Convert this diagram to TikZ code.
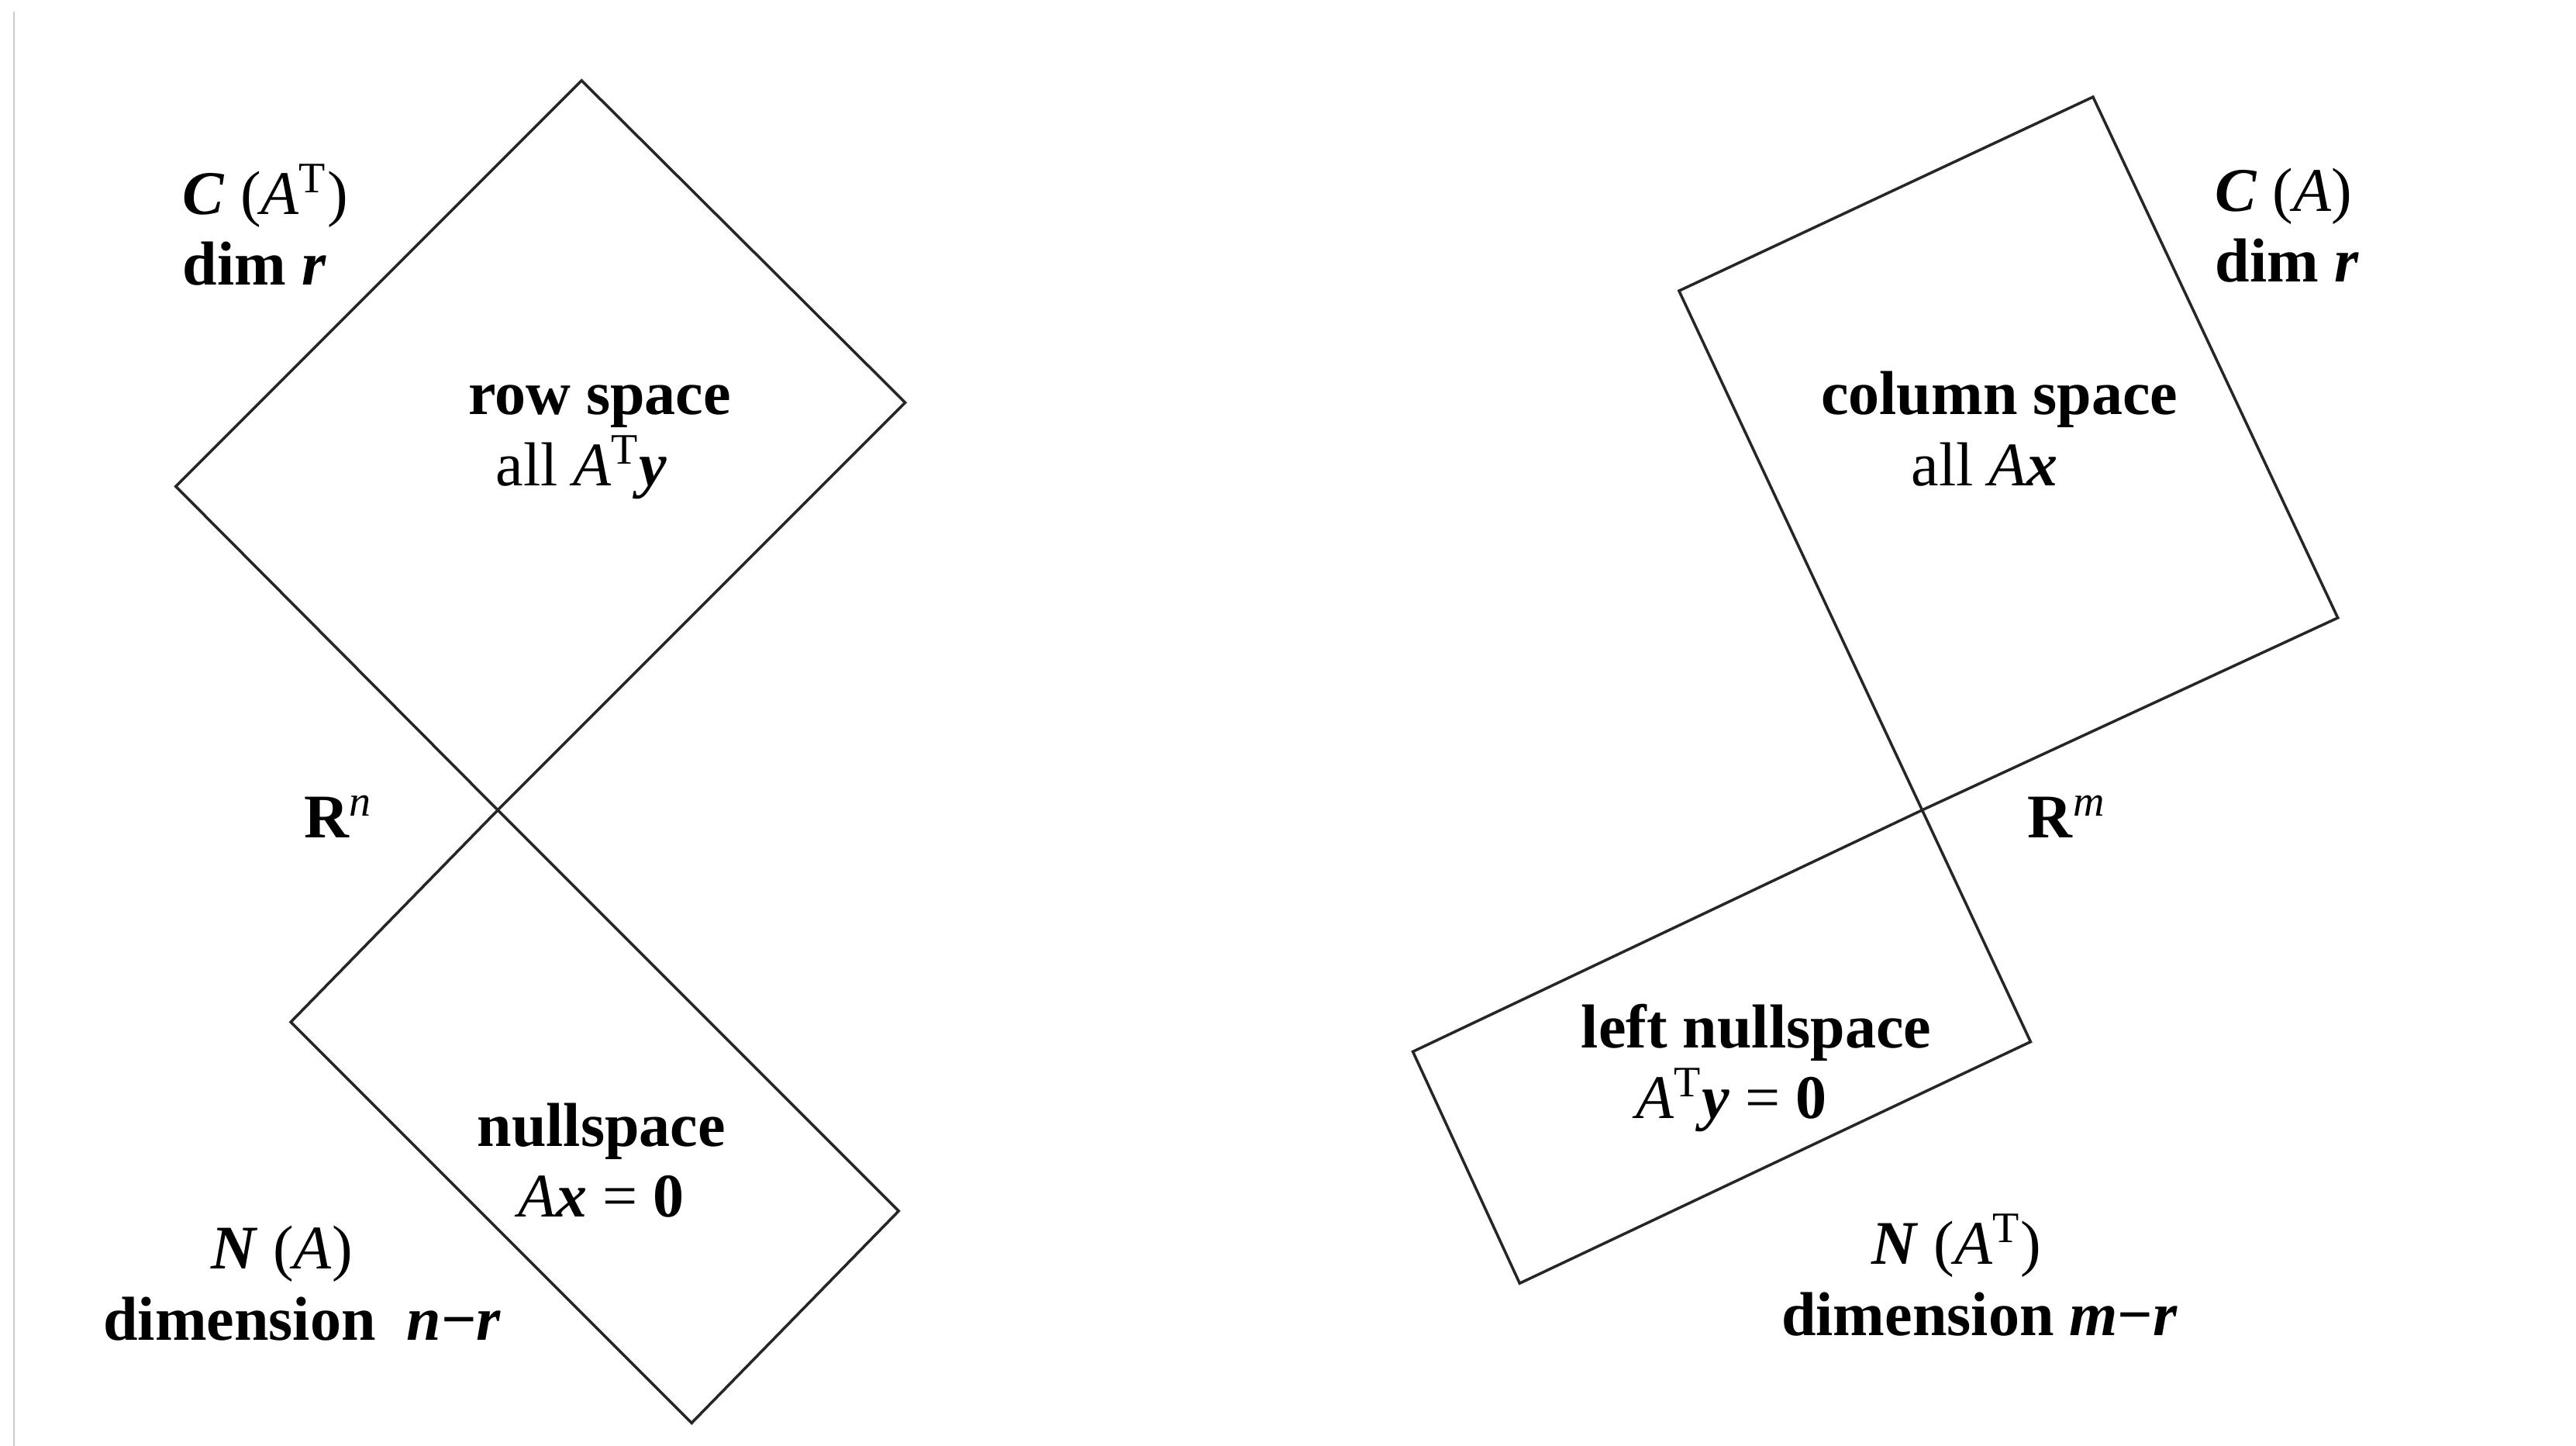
\documentclass[tikz,border=0pt]{standalone}
\usepackage{fontspec}
\setmainfont{Liberation Serif}
\usepackage{tikz}

\newcommand{\bi}[1]{\textbf{\textit{#1}}}
\newcommand{\tp}{\textsuperscript{T}}

\tikzset{
    space/.style={draw=black!85, line width=0.95pt},
    lbl/.style={font=\fontsize{21.5}{24.5}\selectfont, align=center, inner sep=0pt},
    side/.style={lbl, align=left, anchor=west}
}

\begin{document}
\begin{tikzpicture}[x=0.02cm, y=-0.02cm]
    \useasboundingbox (0,0) rectangle (1568,880);

    % Page edge
    \draw[gray!40, line width=0.5pt] (8.5,7) -- (8.5,880);

    % Left picture: R^n
    \coordinate (o1) at (303,493);
    \coordinate (rtop) at (354,49);
    \coordinate (rright) at (551,245);
    \coordinate (rleft) at (107,296);
    \coordinate (nleft) at (177,622);
    \coordinate (nbot) at (421,866);
    \coordinate (nright) at (547,737);

    % Row space
    \draw[space] (o1) -- (rleft) -- (rtop) -- (rright) -- cycle;
    % Nullspace
    \draw[space] (o1) -- (nleft) -- (nbot) -- (nright) -- cycle;

    % Labels
    \node[side] (cat) at (111,137) {\bi{C} (\textit{A}\tp)\\\textbf{dim \bi{r}}};
    \node[lbl] (row) at (365,269) {\textbf{row space}\\all \textit{A}\tp\bi{y}\hspace*{0.44cm}};
    \node[lbl] (rn) at (206,497) {\textbf{R}\textsuperscript{\textit{n}}};
    \node[lbl] (null) at (366,706) {\textbf{nullspace}\\\textit{A}\bi{x} = \textbf{0}};
    \node[lbl] (na) at (184,781) {\bi{N} (\textit{A})\hspace*{0.5cm}\\\textbf{dimension \ \bi{n}−\bi{r}}};

    % Right picture: R^m
    \coordinate (o2) at (1170,493);
    \coordinate (ctop) at (1274,59);
    \coordinate (cleft) at (1022,177);
    \coordinate (cright) at (1423,376);
    \coordinate (lright) at (1236,634);
    \coordinate (lbot) at (925,781);
    \coordinate (lleft) at (860,640);

    % Column space
    \draw[space] (o2) -- (cleft) -- (ctop) -- (cright) -- cycle;
    % Left nullspace
    \draw[space] (o2) -- (lright) -- (lbot) -- (lleft) -- cycle;

    % Labels
    \node[side] (ca) at (1348,137) {\bi{C} (\textit{A})\\\textbf{dim \bi{r}}};
    \node[lbl] (col) at (1217,261) {\textbf{column space}\\all \textit{A}\bi{x}\hspace*{0.36cm}};
    \node[lbl] (rm) at (1258,497) {\textbf{R}\textsuperscript{\textit{m}}};
    \node[lbl] (lnull) at (1069,650) {\textbf{left nullspace}\\\textit{A}\tp\bi{y} = \textbf{0}\hspace*{0.6cm}};
    \node[lbl] (nat) at (1205,776) {\bi{N} (\textit{A}\tp)\hspace*{0.56cm}\\\textbf{dimension \bi{m}−\bi{r}}};
\end{tikzpicture}
\end{document}
